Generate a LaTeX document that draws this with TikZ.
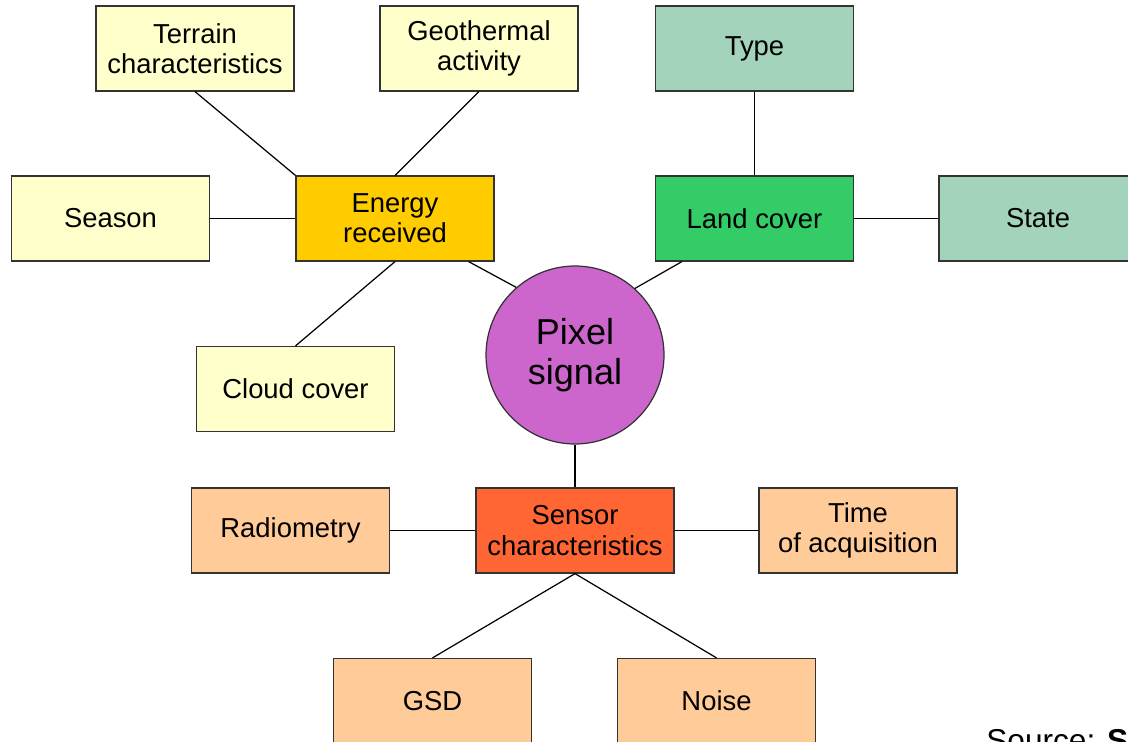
\documentclass[tikz,border=0pt]{standalone}
\usepackage{fontspec}
\setmainfont{Liberation Sans}
\usepackage{tikz}

\definecolor{paleyellow}{HTML}{FFFFCC}
\definecolor{gold}{HTML}{FFCC00}
\definecolor{palegreen}{HTML}{A3D3BB}
\definecolor{landgreen}{HTML}{33CC66}
\definecolor{pixelpink}{HTML}{CC66CC}
\definecolor{sensorred}{HTML}{FF6633}
\definecolor{paleorange}{HTML}{FFCC99}
\definecolor{edge}{HTML}{333333}

\begin{document}
\begin{tikzpicture}[x=0.02cm,y=-0.02cm,
    box/.style={draw=edge,line width=0.7pt,minimum width=3.96cm,minimum height=1.7cm,
        align=center,inner sep=0pt,font=\fontsize{15.6}{17.2}\selectfont},
    link/.style={draw=black,line width=0.7pt}]
\useasboundingbox (0,0) rectangle (1128,742);

% energy received
\node[box,fill=gold] (energy) at (395,218.5) {Energy\\received};
\node[box,fill=paleyellow] (terrain) at (195,48.5) {Terrain\\characteristics};
\node[box,fill=paleyellow] (geo) at (479,48.5) {Geothermal\\activity};
\node[box,fill=paleyellow] (season) at (110.5,218.5) {Season};
\node[box,fill=paleyellow] (cloud) at (295.5,389) {Cloud cover};

% land cover
\node[box,fill=landgreen] (land) at (754.5,218.5) {Land cover};
\node[box,fill=palegreen] (type) at (754.5,48.5) {Type};
\node[box,fill=palegreen] (state) at (1038,218.5) {State};

% pixel
\node[draw=edge,line width=0.7pt,circle,fill=pixelpink,minimum size=3.56cm,align=center,
    font=\fontsize{20.5}{22.5}\selectfont] (pix) at (575,355) {Pixel\\signal};

% sensor
\node[box,fill=sensorred] (sensor) at (575,530.5) {Sensor\\characteristics};
\node[box,fill=paleorange] (radio) at (290.5,530.5) {Radiometry};
\node[box,fill=paleorange] (time) at (858,530.5) {Time\\of acquisition};
\node[box,fill=paleorange] (gsd) at (432.5,701) {GSD};
\node[box,fill=paleorange] (noise) at (716.5,701) {Noise};

\draw[link] (terrain.south) -- (energy.north west);
\draw[link] (geo.south) -- (energy.north);
\draw[link] (season.east) -- (energy.west);
\draw[link] (energy.south) -- (cloud.north);
\draw[link] ([xshift=-0.52cm]energy.south east) -- (pix.131);

\draw[link] (type.south) -- (land.north);
\draw[link] (land.east) -- (state.west);
\draw[link] ([xshift=0.54cm]land.south west) -- (pix.48);

\draw[link] (pix.south) -- (sensor.north);
\draw[link] (radio.east) -- (sensor.west);
\draw[link] (sensor.east) -- (time.west);
\draw[link] (sensor.south) -- (gsd.north);
\draw[link] (sensor.south) -- (noise.north);

\node[anchor=base west,inner sep=0pt,font=\fontsize{18}{20}\selectfont] (src) at (986,751) {Source: \textbf{S}};
\end{tikzpicture}
\end{document}
